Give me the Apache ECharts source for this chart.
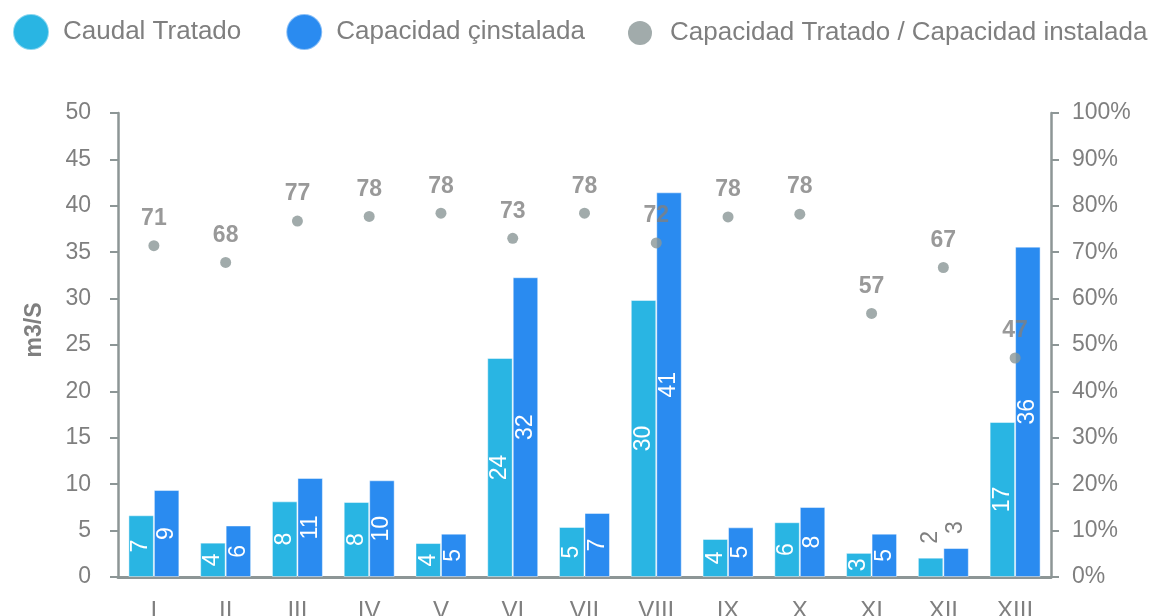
<!DOCTYPE html>
<html>
<head>
<meta charset="utf-8">
<script src="https://cdn.jsdelivr.net/npm/echarts@6/dist/echarts.min.js"></script>
<style>
  html, body { margin: 0; padding: 0; background: #fff; }
  #chart { width: 1161px; height: 616px; }
</style>
</head>
<body>
<div id="chart"></div>
<script>
// Plantas de tratamiento por región
const categories = ['I', 'II', 'III', 'IV', 'V', 'VI', 'VII', 'VIII', 'IX', 'X', 'XI', 'XII', 'XIII'];
const caudalTratado = [6.65, 3.70, 8.15, 8.08, 3.66, 23.6, 5.39, 29.85, 4.10, 5.90, 2.60, 2.08, 16.7];
const capacidadInstalada = [9.37, 5.55, 10.67, 10.42, 4.67, 32.3, 6.90, 41.45, 5.35, 7.54, 4.67, 3.12, 35.6];
const ratioPct = [71.4, 67.8, 76.7, 77.7, 78.4, 73.0, 78.4, 72.0, 77.6, 78.2, 56.8, 66.7, 47.2];
// Regions whose bar values are written above the bars
const labelsAbove = ['XII'];
const leftTicks = { min: 0, max: 50, interval: 5 };
const rightTicks = { min: 0, max: 100, interval: 10 };

const FONT = 'Liberation Sans, Arial, sans-serif';
const TEXT_GRAY = '#7f7f7f';
const AXIS_GRAY = '#8d9696';
const C_CAUDAL = '#29b5e3';
const C_CAPACIDAD = '#2a8bf0';
const C_RATIO = '#8a9696';

function barData(values) {
  return values.map((v, i) => {
    if (labelsAbove.includes(categories[i])) {
      return {
        value: v,
        label: {
          position: 'top', distance: 14, color: TEXT_GRAY,
          align: 'left', verticalAlign: 'middle'
        }
      };
    }
    return v;
  });
}

const barLabel = {
  show: true,
  position: 'inside',
  rotate: 90,
  color: '#ffffff',
  fontFamily: FONT,
  fontSize: 23,
  formatter: p => Math.round(p.value)
};

const chart = echarts.init(document.getElementById('chart'), null, { renderer: 'canvas' });

chart.setOption({
  animation: false,
  textStyle: { fontFamily: FONT },
  legend: [
    {
      data: ['Caudal Tratado', 'Capacidad çinstalada'],
      left: 12, top: 13, padding: 0,
      icon: 'circle',
      itemWidth: 36, itemHeight: 36,
      itemGap: 44,
      textStyle: { color: TEXT_GRAY, fontSize: 26, fontFamily: FONT, padding: [0, 0, 0, 9] }
    },
    {
      data: ['Capacidad Tratado / Capacidad instalada'],
      left: 628, top: 20, padding: 0,
      icon: 'circle',
      itemWidth: 24, itemHeight: 24,
      textStyle: { color: TEXT_GRAY, fontSize: 26, fontFamily: FONT, padding: [0, 0, 0, 13] }
    }
  ],
  grid: { left: 118, right: 110, top: 113, bottom: 39, containLabel: false, outerBoundsMode: 'none' },
  xAxis: {
    type: 'category',
    data: categories,
    boundaryGap: true,
    axisLine: { lineStyle: { color: AXIS_GRAY, width: 3 } },
    axisTick: { show: false },
    axisLabel: { color: TEXT_GRAY, fontSize: 24, fontFamily: FONT, margin: 22 }
  },
  yAxis: [
    {
      type: 'value',
      min: leftTicks.min, max: leftTicks.max, interval: leftTicks.interval,
      name: 'm3/S',
      nameLocation: 'middle',
      nameGap: 72,
      nameTextStyle: { color: TEXT_GRAY, fontSize: 23, fontWeight: 'bold', fontFamily: FONT, padding: [0, 0, 0, 30] },
      axisLine: { show: true, lineStyle: { color: AXIS_GRAY, width: 2.5 } },
      axisTick: { show: true, length: 8, lineStyle: { color: AXIS_GRAY, width: 2 } },
      axisLabel: { color: TEXT_GRAY, fontSize: 23, fontFamily: FONT, margin: 27 },
      splitLine: { show: false }
    },
    {
      type: 'value',
      position: 'right',
      min: rightTicks.min, max: rightTicks.max, interval: rightTicks.interval,
      axisLine: { show: true, lineStyle: { color: AXIS_GRAY, width: 2.5 } },
      axisTick: { show: true, length: 8, lineStyle: { color: AXIS_GRAY, width: 2 } },
      axisLabel: { color: TEXT_GRAY, fontSize: 23, fontFamily: FONT, margin: 21, formatter: '{value}%' },
      splitLine: { show: false }
    }
  ],
  series: [
    {
      name: 'Caudal Tratado',
      type: 'bar',
      data: barData(caudalTratado),
      barGap: '0%',
      barCategoryGap: '29%',
      itemStyle: { color: C_CAUDAL, borderColor: 'rgba(255,255,255,0.45)', borderWidth: 1 },
      label: barLabel
    },
    {
      name: 'Capacidad çinstalada',
      type: 'bar',
      data: barData(capacidadInstalada),
      itemStyle: { color: C_CAPACIDAD, borderColor: 'rgba(255,255,255,0.45)', borderWidth: 1 },
      label: barLabel
    },
    {
      name: 'Capacidad Tratado / Capacidad instalada',
      type: 'scatter',
      yAxisIndex: 1,
      data: ratioPct,
      symbol: 'circle',
      symbolSize: 11,
      z: 5,
      itemStyle: { color: C_RATIO },
      label: {
        show: true,
        position: 'top',
        distance: 10,
        color: TEXT_GRAY,
        fontSize: 23,
        fontWeight: 'bold',
        fontFamily: FONT,
        formatter: p => Math.round(p.value)
      }
    }
  ]
});
</script>
</body>
</html>
